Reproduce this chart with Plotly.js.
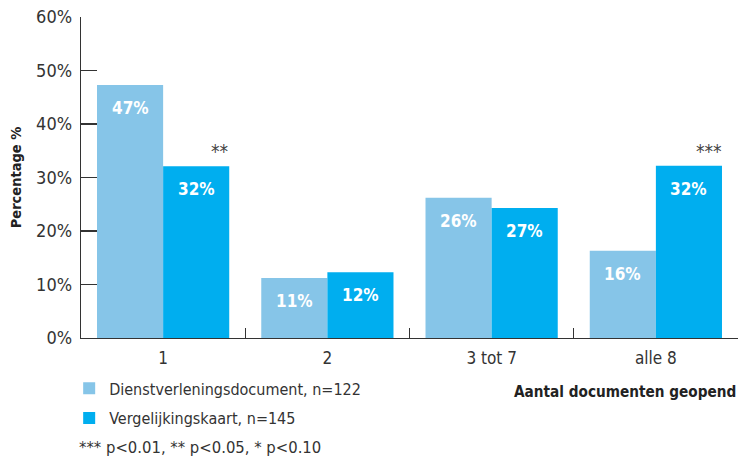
<!DOCTYPE html>
<html>
<head>
<meta charset="utf-8">
<script src="https://cdn.plot.ly/plotly-3.0.1.min.js"></script>
<style>html,body{margin:0;padding:0;background:#fff;}#chart{width:739px;height:457px;}</style>
</head>
<body>
<div id="chart"></div>
<script>
const categories = ['1', '2', '3 tot 7', 'alle 8'];
const seriesNames = ['Dienstverleningsdocument, n=122', 'Vergelijkingskaart, n=145'];
const dienstValues = [47.3, 11.2, 26.2, 16.3];
const vergValues = [32.1, 12.3, 24.3, 32.2];
const dienstLabels = ['47%', '11%', '26%', '16%'];
const vergLabels = ['32%', '12%', '27%', '32%'];
const significance = ['**', '', '', '***'];
const yTickVals = [0, 10, 20, 30, 40, 50, 60];
const footnote = '*** p&lt;0.01, ** p&lt;0.05, * p&lt;0.10';
const xTitle = 'Aantal documenten geopend';
const yTitle = 'Percentage %';

const FONT = '"DejaVu Sans Condensed", sans-serif';
const lightColor = '#86C5E8';
const darkColor = '#00AEEF';

const traces = [
  {type: 'bar', name: seriesNames[0], x: categories, y: dienstValues, marker: {color: lightColor}, legendgroup: 'a', hoverinfo: 'none'},
  {type: 'bar', name: seriesNames[1], x: categories, y: vergValues, marker: {color: darkColor}, legendgroup: 'b', hoverinfo: 'none'}
];

const annotations = [];
const halfShift = 33;
categories.forEach((c, i) => {
  annotations.push({x: i, y: dienstValues[i], xref: 'x', yref: 'y', text: '<b>' + dienstLabels[i] + '</b>', showarrow: false,
    yanchor: 'top', yshift: -11, xshift: -halfShift, font: {family: FONT, size: 17, color: '#ffffff'}});
  annotations.push({x: i, y: vergValues[i], xref: 'x', yref: 'y', text: '<b>' + vergLabels[i] + '</b>', showarrow: false,
    yanchor: 'top', yshift: -11, xshift: halfShift, font: {family: FONT, size: 17, color: '#ffffff'}});
  if (significance[i]) {
    annotations.push({x: i, y: vergValues[i], xref: 'x', yref: 'y', text: significance[i], showarrow: false,
      yanchor: 'bottom', xanchor: 'right', yshift: 2, xshift: 68, font: {family: FONT, size: 19, color: '#444'}});
  }
});
annotations.push({xref: 'paper', yref: 'paper', x: 1, y: -0.168, xanchor: 'right', yanchor: 'middle', showarrow: false,
  text: '<b>' + xTitle + '</b>', font: {family: FONT, size: 15.2, color: '#222'}});
annotations.push({xref: 'paper', yref: 'paper', x: -0.006, y: -0.341, xanchor: 'left', yanchor: 'middle', showarrow: false,
  text: footnote, font: {family: FONT, size: 16.5, color: '#333'}});

const layout = {
  width: 739, height: 457,
  margin: {l: 81, r: 1, t: 17, b: 119},
  paper_bgcolor: '#fff', plot_bgcolor: '#fff',
  font: {family: FONT, size: 17, color: '#333'},
  barmode: 'group', bargap: 0.195, bargroupgap: 0,
  showlegend: true,
  legend: {x: -0.018, y: -0.104, xanchor: 'left', yanchor: 'top', orientation: 'v', traceorder: 'grouped', tracegroupgap: 6,
    font: {family: FONT, size: 16, color: '#333'}, bgcolor: 'rgba(0,0,0,0)'},
  xaxis: {type: 'category', range: [-0.5, 3.5], showline: true, linecolor: '#333', linewidth: 1.3,
    ticks: 'inside', tickson: 'boundaries', ticklen: 10, tickcolor: '#333', tickwidth: 1.3, ticklabelstandoff: 4,
    showgrid: false, zeroline: false, tickfont: {family: FONT, size: 17, color: '#333'}, fixedrange: true},
  yaxis: {range: [0, 60], tickvals: yTickVals, ticktext: yTickVals.map(v => v + '%'), showline: true, linecolor: '#333', linewidth: 1.3,
    ticks: 'inside', ticklen: 16, tickcolor: '#333', tickwidth: 1.3, showgrid: false, zeroline: false,
    tickfont: {family: FONT, size: 18, color: '#333'}, ticklabelstandoff: 4,
    title: {text: '<b>' + yTitle + '</b>', font: {family: FONT, size: 14.5, color: '#222'}, standoff: 11}, fixedrange: true},
  annotations: annotations
};

Plotly.newPlot('chart', traces, layout, {displayModeBar: false, staticPlot: true});
</script>
</body>
</html>
